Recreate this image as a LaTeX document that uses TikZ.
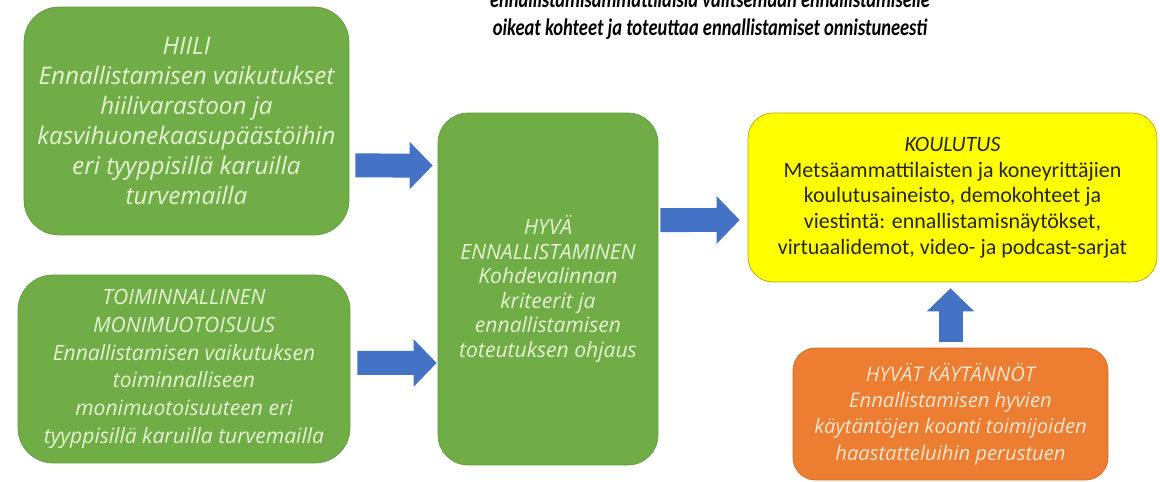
\documentclass[tikz,border=0pt]{standalone}
\usepackage{fontspec}
\setmainfont{Carlito}
\newfontfamily\boxfont{Open Sans}
\newfontfamily\titlefont[FakeStretch=0.78]{Carlito}
\usetikzlibrary{arrows.meta}

\definecolor{grn}{HTML}{70AD47}
\definecolor{grnline}{HTML}{5F9A3B}
\definecolor{grntext}{HTML}{E6F3D3}
\definecolor{yel}{HTML}{FFFF00}
\definecolor{yelline}{HTML}{B8A800}
\definecolor{org}{HTML}{ED7D31}
\definecolor{orgline}{HTML}{D2681F}
\definecolor{orgtext}{HTML}{FCE6D2}
\definecolor{arr}{HTML}{4472C4}

\begin{document}
\begin{tikzpicture}[x=0.02cm,y=-0.02cm,
  gbox/.style={rectangle,rounded corners=0.7cm,draw=grnline,fill=grn,text=grntext,align=center,
    font=\boxfont\itshape\fontsize{12}{14}\selectfont},
  ybox/.style={rectangle,rounded corners=0.5cm,draw=yelline,fill=yel,text=black!85,align=center,
    font=\fontsize{12.5}{14.6}\selectfont},
  obox/.style={rectangle,rounded corners=0.45cm,draw=orgline,fill=org,text=orgtext,align=center,
    font=\boxfont\itshape\fontsize{11.5}{15}\selectfont},
  bigarrow/.style={draw=arr,line width=0.48cm,-{Triangle[length=0.46cm,width=0.92cm]}}]

  \useasboundingbox (0,0) rectangle (1160,482);

  \node[font=\titlefont\bfseries\itshape\fontsize{13.5}{15.9}\selectfont,align=center] (title) at (710,15)
    {ennallistamisammattilaisia valitsemaan ennallistamiselle\\oikeat kohteet ja toteuttaa ennallistamiset onnistuneesti};

  \node[gbox,font=\boxfont\itshape\fontsize{13.8}{17}\selectfont,minimum width=6.5cm,minimum height=4.56cm] (hiili) at (186.5,121)
    {HIILI\\Ennallistamisen vaikutukset\\hiilivarastoon ja\\kasvihuonekaasupäästöihin\\eri tyyppisillä karuilla\\turvemailla};
  \node[gbox,font=\boxfont\itshape\fontsize{12}{15.8}\selectfont,minimum width=6.64cm,minimum height=3.76cm] (toim) at (184,369)
    {TOIMINNALLINEN\\MONIMUOTOISUUS\\Ennallistamisen vaikutuksen\\toiminnalliseen\\monimuotoisuuteen eri\\tyyppisillä karuilla turvemailla};
  \node[gbox,rounded corners=0.6cm,minimum width=4.4cm,minimum height=7.04cm] (hyva) at (548,289)
    {HYVÄ\\ENNALLISTAMINEN\\Kohdevalinnan\\kriteerit ja\\ennallistamisen\\toteutuksen ohjaus};
  \node[ybox,minimum width=8.18cm,minimum height=3.38cm] (koul) at (952.5,197.5)
    {\textit{KOULUTUS}\\Metsäammattilaisten ja koneyrittäjien\\koulutusaineisto, demokohteet ja\\viestintä: ennallistamisnäytökset,\\virtuaalidemot, video- ja podcast-sarjat};
  \node[obox,minimum width=6.3cm,minimum height=2.64cm] (kayt) at (950.5,414)
    {HYVÄT KÄYTÄNNÖT\\Ennallistamisen hyvien\\käytäntöjen koonti toimijoiden\\haastatteluihin perustuen};

  \draw[bigarrow,shorten <=0.12cm,shorten >=0.1cm] ([yshift=-0.89cm]hiili.east) -- ([yshift=2.47cm]hyva.west);
  \draw[bigarrow,shorten <=0.14cm,shorten >=0.02cm] ([yshift=0.12cm]toim.east) -- ([yshift=-1.48cm]hyva.west);
  \draw[bigarrow,shorten <=0.04cm,shorten >=0.16cm] ([yshift=1.38cm]hyva.east) -- ([yshift=-0.45cm]koul.west);
  \draw[bigarrow,shorten <=0.12cm,shorten >=0.12cm] (kayt.north) -- (kayt.north |- koul.south);
\end{tikzpicture}
\end{document}
